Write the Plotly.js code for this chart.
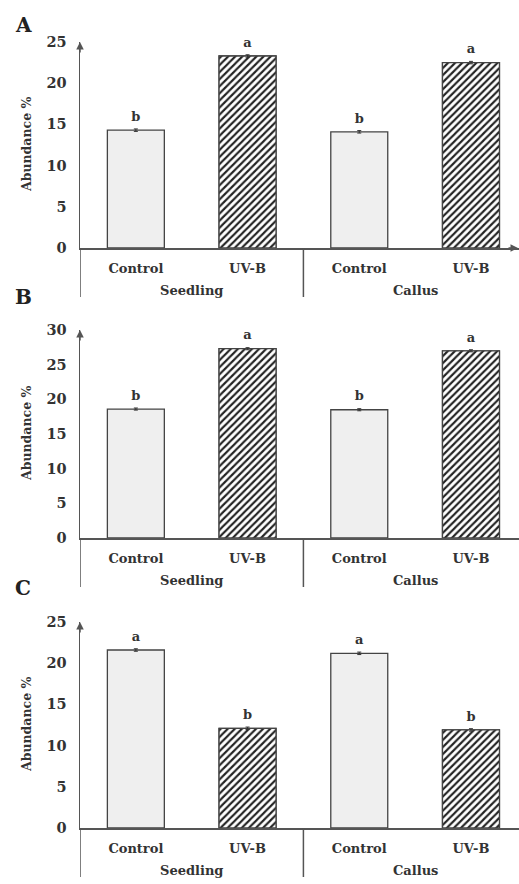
<!DOCTYPE html>
<html>
<head>
<meta charset="utf-8">
<script src="https://cdn.plot.ly/plotly-3.0.1.min.js"></script>
<style>
html, body { margin: 0; padding: 0; background: #fff; }
#chart { width: 519px; height: 884px; }
</style>
</head>
<body>
<div id="chart"></div>
<script>
// ---- data ----
var groups = ["Seedling", "Seedling", "Callus", "Callus"];
var treatments = ["Control", "UV-B", "Control", "UV-B"];
var panelLabels = ["A", "B", "C"];
var valuesA = [14.3, 23.3, 14.1, 22.5];
var valuesB = [18.6, 27.3, 18.5, 27.0];
var valuesC = [21.6, 12.1, 21.2, 11.9];
var errorsA = [0.15, 0.15, 0.15, 0.15];
var errorsB = [0.15, 0.15, 0.15, 0.15];
var errorsC = [0.15, 0.15, 0.15, 0.15];
var lettersA = ["b", "a", "b", "a"];
var lettersB = ["b", "a", "b", "a"];
var lettersC = ["a", "b", "a", "b"];
var yMaxes = [25, 30, 25];
var yTitle = "Abundance %";
var hatchedTreatment = "UV-B";

// ---- styling ----
var W = 519, H = 884;
var FONT = "DejaVu Serif";
var TXT = "#333333";
var AX = "#555555";
var xDomain = [80 / W, 1];
var xRange = [-0.5, 3.43];
var panelsPx = [[42, 248], [330, 538], [622, 828]]; // top, bottom (px)
var letterPy = [25, 297, 588];
var dividerLenPx = 49;
var groupLabelOffsetPx = 42;

var values = [valuesA, valuesB, valuesC];
var errors = [errorsA, errorsB, errorsC];
var letters = [lettersA, lettersB, lettersC];

// category positions on the x scale (one slot per bar)
var xPos = treatments.map(function (t, i) { return i; });
// group centres and boundaries derived from the groups array
var groupNames = [], groupCenters = [], boundaries = [];
groups.forEach(function (g, i) {
  if (i === 0 || g !== groups[i - 1]) {
    groupNames.push(g);
    groupCenters.push([i]);
    boundaries.push(i - 0.5);
  } else {
    groupCenters[groupCenters.length - 1].push(i);
  }
});
groupCenters = groupCenters.map(function (a) { return (a[0] + a[a.length - 1]) / 2; });

var fillColors = treatments.map(function (t) { return t === hatchedTreatment ? "#ffffff" : "#efefef"; });

var data = [];
var layout = {
  width: W, height: H,
  margin: { l: 0, r: 0, t: 0, b: 0 },
  paper_bgcolor: "#fff", plot_bgcolor: "rgba(0,0,0,0)",
  showlegend: false,
  barmode: "overlay",
  font: { family: FONT, color: TXT },
  annotations: [],
  shapes: []
};

for (var p = 0; p < 3; p++) {
  var sfx = p === 0 ? "" : String(p + 1);
  var xa = "x" + sfx, ya = "y" + sfx;
  var dom = [1 - panelsPx[p][1] / H, 1 - panelsPx[p][0] / H];
  var hatchY = values[p].map(function (v, i) { return treatments[i] === hatchedTreatment ? v : null; });

  data.push({
    type: "bar",
    x: xPos, y: values[p],
    xaxis: xa, yaxis: ya,
    width: 0.51,
    marker: { color: fillColors, line: { color: "#444", width: 1.3 } },
    hoverinfo: "y"
  });
  data.push({
    type: "bar",
    x: xPos, y: hatchY,
    xaxis: xa, yaxis: ya,
    width: 0.51,
    marker: {
      color: "#ffffff",
      line: { color: "#444", width: 1.3 },
      pattern: { shape: "/", fgcolor: "#222222", bgcolor: "#ffffff", size: 5, solidity: 0.42, fillmode: "replace" }
    },
    hoverinfo: "skip"
  });
  data.push({
    type: "scatter",
    mode: "markers+text",
    x: xPos, y: values[p],
    xaxis: xa, yaxis: ya,
    text: letters[p],
    textposition: "top center",
    textfont: { family: FONT, size: 13, weight: "bold", color: TXT },
    marker: { size: 8, opacity: 0 },
    error_y: { type: "data", array: errors[p], visible: true, color: "#333", thickness: 1, width: 2 },
    cliponaxis: false,
    hoverinfo: "skip"
  });

  layout["xaxis" + sfx] = {
    domain: xDomain,
    range: xRange,
    anchor: ya,
    tickvals: xPos, ticktext: treatments,
    showline: true, linecolor: AX, linewidth: 1.5,
    showgrid: false, zeroline: false,
    ticks: "outside", ticklen: 8, tickcolor: "rgba(0,0,0,0)",
    tickfont: { family: FONT, size: 13, weight: "bold", color: TXT },
    fixedrange: true
  };
  layout["yaxis" + sfx] = {
    domain: dom,
    range: [0, yMaxes[p]],
    dtick: 5,
    anchor: xa,
    showline: true, linecolor: AX, linewidth: 1.5,
    showgrid: false, zeroline: false,
    ticks: "outside", ticklen: 9, tickcolor: "rgba(0,0,0,0)",
    tickfont: { family: FONT, size: 14.5, weight: "bold", color: TXT },
    fixedrange: true
  };

  // group labels + dividers
  groupNames.forEach(function (g, k) {
    layout.annotations.push({
      xref: xa, yref: "paper",
      x: groupCenters[k], y: dom[0], yshift: -groupLabelOffsetPx,
      text: g, showarrow: false,
      font: { family: FONT, size: 13, weight: "bold", color: TXT },
      xanchor: "center", yanchor: "middle"
    });
  });
  boundaries.forEach(function (b) {
    layout.shapes.push({
      type: "line", xref: xa, yref: "paper",
      x0: b, x1: b, y0: dom[0], y1: dom[0] - dividerLenPx / H,
      line: { color: AX, width: 1.5 }
    });
  });

  layout.annotations.push({
    xref: "paper", yref: "paper",
    x: 26 / W, y: (dom[0] + dom[1]) / 2,
    text: yTitle, textangle: -90, showarrow: false,
    font: { family: FONT, size: 12.5, weight: "bold", color: TXT },
    xanchor: "center", yanchor: "middle"
  });
  layout.annotations.push({
    xref: "paper", yref: "paper",
    x: 23 / W, y: 1 - letterPy[p] / H,
    text: panelLabels[p], showarrow: false,
    font: { family: FONT, size: 20, weight: "bold", color: "#222" },
    xanchor: "center", yanchor: "middle"
  });
  layout.annotations.push({
    xref: "paper", yref: "paper",
    x: xDomain[0], y: dom[1],
    ax: 0, ay: 12, axref: "pixel", ayref: "pixel",
    showarrow: true, arrowhead: 2, arrowsize: 1, arrowwidth: 1.5, arrowcolor: AX, text: ""
  });
}
layout.annotations.push({
  xref: "paper", yref: "paper",
  x: 1, y: 1 - panelsPx[0][1] / H,
  ax: -12, ay: 0, axref: "pixel", ayref: "pixel",
  showarrow: true, arrowhead: 2, arrowsize: 1, arrowwidth: 1.5, arrowcolor: AX, text: ""
});

Plotly.newPlot("chart", data, layout, { staticPlot: true });
</script>
</body>
</html>
